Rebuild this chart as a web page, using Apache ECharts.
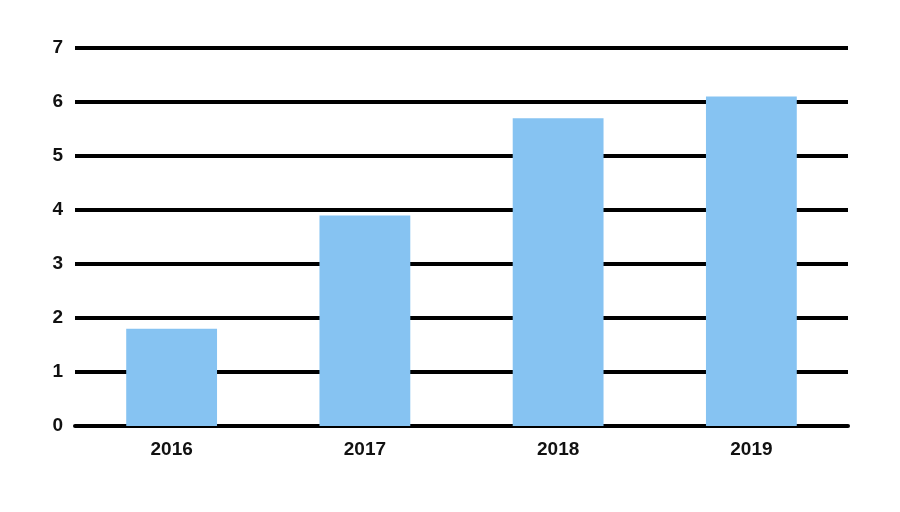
<!DOCTYPE html>
<html>
<head>
<meta charset="utf-8">
<script src="https://cdn.jsdelivr.net/npm/echarts@6/dist/echarts.min.js"></script>
<style>html,body{margin:0;padding:0;background:#fff}#main{width:900px;height:512px}</style>
</head>
<body>
<div id="main"></div>
<script>
var years = ['2016', '2017', '2018', '2019'];
var values = [1.8, 3.9, 5.7, 6.1];
var yTicks = [0, 1, 2, 3, 4, 5, 6, 7];

var chart = echarts.init(document.getElementById('main'));
var option = {
  animation: false,
  grid: { left: 75, right: 52, top: 48, bottom: 86 },
  xAxis: {
    type: 'category',
    data: years,
    axisLine: { show: true, lineStyle: { color: '#000', width: 4 } },
    axisTick: { show: false },
    axisLabel: { color: '#111', fontSize: 19, fontWeight: 'bold', fontFamily: 'Liberation Sans', margin: 14 }
  },
  yAxis: {
    type: 'value',
    min: yTicks[0],
    max: yTicks[yTicks.length - 1],
    interval: 1,
    axisLine: { show: false },
    axisTick: { show: false },
    axisLabel: { color: '#111', fontSize: 19, fontWeight: 'bold', fontFamily: 'Liberation Sans', margin: 12 },
    splitLine: { lineStyle: { color: '#000', width: 4 } }
  },
  series: [{
    type: 'bar',
    data: values,
    barWidth: '47%',
    z: 1,
    itemStyle: { color: '#86C3F2' }
  }]
};
chart.setOption(option);
</script>
</body>
</html>
